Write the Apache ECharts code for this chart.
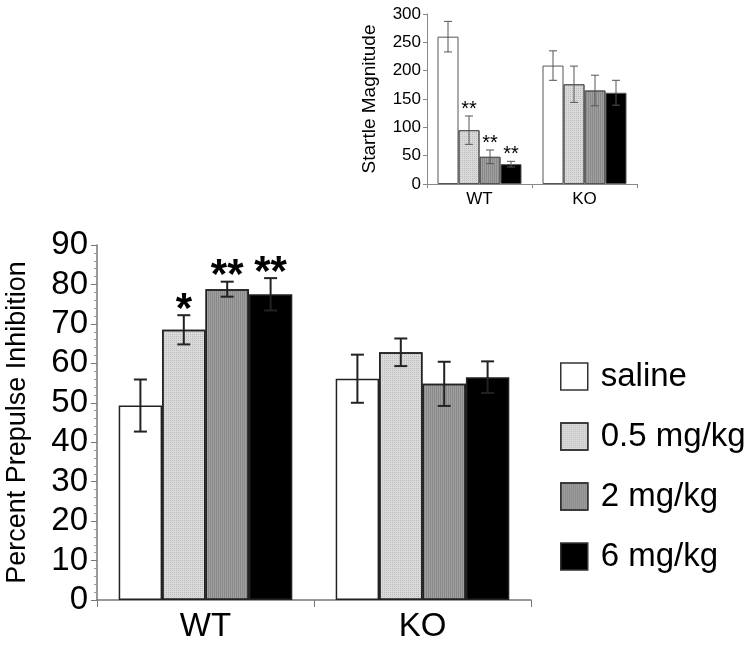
<!DOCTYPE html>
<html>
<head>
<meta charset="utf-8">
<script src="https://cdn.jsdelivr.net/npm/echarts@6/dist/echarts.min.js"></script>
<style>
  html, body { margin: 0; padding: 0; background: #fff; }
  #chart { width: 756px; height: 650px; }
</style>
</head>
<body>
<div id="chart"></div>
<script>
const categories = ["WT", "KO"];
const doses = ["saline", "0.5 mg/kg", "2 mg/kg", "6 mg/kg"];
const fills = ["#ffffff", "#dadada", "#a0a0a0", "#000000"];

// percent prepulse inhibition, [WT, KO] per dose
const ppiSaline = [49.3, 56.1];
const ppiLow = [68.5, 62.8];
const ppiMid = [78.8, 54.8];
const ppiHigh = [77.5, 56.5];
const ppiSalineErr = [6.6, 6.1];
const ppiLowErr = [3.7, 3.5];
const ppiMidErr = [1.9, 5.6];
const ppiHighErr = [4.1, 4.0];
const ppiStars = [["", ""], ["*", ""], ["**", ""], ["**", ""]];
const ppiTicks = [0, 10, 20, 30, 40, 50, 60, 70, 80, 90];

// startle magnitude (inset)
const startleSaline = [260, 209];
const startleLow = [95, 176];
const startleMid = [48, 165];
const startleHigh = [35, 161];
const startleSalineErr = [27, 26];
const startleLowErr = [25, 32];
const startleMidErr = [12, 27];
const startleHighErr = [5, 22];
const startleStars = [["", ""], ["**", ""], ["**", ""], ["**", ""]];
const startleTicks = [0, 50, 100, 150, 200, 250, 300];

const FONT = "'Liberation Sans', Arial, sans-serif";

const ppiMeans = [ppiSaline, ppiLow, ppiMid, ppiHigh];
const ppiErrs = [ppiSalineErr, ppiLowErr, ppiMidErr, ppiHighErr];
const startleMeans = [startleSaline, startleLow, startleMid, startleHigh];
const startleErrs = [startleSalineErr, startleLowErr, startleMidErr, startleHighErr];

// fine print-style textures on the two grey fills
const decals = [
  null,
  { symbol: "rect", symbolSize: 1, color: "rgba(0,0,0,0.13)", dashArrayX: [1, 1], dashArrayY: [1, 1], rotation: 0 },
  { symbol: "rect", symbolSize: 1, color: "rgba(0,0,0,0.14)", dashArrayX: [1, 1], dashArrayY: [4, 0], rotation: 0 },
  null,
];

function buildBars(axisIndex, means, borderWidth, borderColor) {
  return doses.map((name, i) => {
    const itemStyle = { color: fills[i], borderColor, borderWidth };
    if (decals[i]) itemStyle.decal = decals[i];
    return {
      name,
      type: "bar",
      xAxisIndex: axisIndex,
      yAxisIndex: axisIndex,
      data: means[i],
      barGap: "0%",
      barCategoryGap: "20%",
      silent: true,
      itemStyle,
    };
  });
}

function buildErrors(axisIndex, means, errs, stars, opt) {
  return doses.map((name, i) => ({
    type: "custom",
    xAxisIndex: axisIndex,
    yAxisIndex: axisIndex,
    silent: true,
    z: 5,
    data: means[i].map((value, c) => [c, value, errs[i][c]]),
    renderItem: (params, api) => {
      const c = api.value(0);
      const value = api.value(1);
      const err = api.value(2);
      const band = api.size([1, 0])[0];
      const barWidth = (band * 0.8) / doses.length;
      const x = api.coord([c, value])[0] + (i - 1.5) * barWidth;
      const yTop = api.coord([c, value + err])[1];
      const yBot = api.coord([c, value - err])[1];
      const style = { stroke: opt.color, lineWidth: opt.width };
      const children = [
        { type: "line", shape: { x1: x, y1: yTop, x2: x, y2: yBot }, style },
        { type: "line", shape: { x1: x - opt.cap, y1: yTop, x2: x + opt.cap, y2: yTop }, style },
        { type: "line", shape: { x1: x - opt.cap, y1: yBot, x2: x + opt.cap, y2: yBot }, style },
      ];
      const star = stars[i][params.dataIndex];
      if (star) {
        children.push({
          type: "text",
          style: {
            text: star,
            x,
            y: yTop - opt.starGap,
            align: "center",
            verticalAlign: "middle",
            font: opt.starFont,
            fill: "#000",
          },
        });
      }
      return { type: "group", children };
    },
  }));
}

const chart = echarts.init(document.getElementById("chart"), null, { renderer: "canvas" });

chart.setOption({
  animation: false,
  backgroundColor: "#fff",
  textStyle: { fontFamily: FONT },
  legend: {
    data: doses,
    orient: "vertical",
    left: 560,
    top: 360,
    padding: 0,
    itemWidth: 27,
    itemHeight: 27,
    itemGap: 27,
    icon: "rect",
    selectedMode: false,
    itemStyle: { borderColor: "#333", borderWidth: 1.5 },
    textStyle: { fontSize: 33, color: "#000", fontFamily: FONT, padding: [0, 0, 0, 8] },
  },
  grid: [
    { left: 97, top: 245, width: 434, height: 355, containLabel: false, outerBoundsMode: "none" },
    { left: 427, top: 14, width: 210, height: 170, containLabel: false, outerBoundsMode: "none" },
  ],
  xAxis: [
    {
      type: "category",
      gridIndex: 0,
      data: categories,
      axisLine: { lineStyle: { color: "#777", width: 1.5 } },
      axisTick: { show: true, length: 7, lineStyle: { color: "#777" } },
      axisLabel: { fontSize: 33, color: "#000", margin: 10, fontFamily: FONT },
    },
    {
      type: "category",
      gridIndex: 1,
      data: categories,
      axisLine: { lineStyle: { color: "#888", width: 1 } },
      axisTick: { show: true, length: 4, lineStyle: { color: "#888" } },
      axisLabel: { fontSize: 17, color: "#000", margin: 7, fontFamily: FONT },
    },
  ],
  yAxis: [
    {
      type: "value",
      gridIndex: 0,
      min: ppiTicks[0],
      max: ppiTicks[ppiTicks.length - 1],
      interval: 10,
      name: "Percent Prepulse Inhibition",
      nameLocation: "middle",
      nameGap: 66,
      nameTextStyle: { fontSize: 27, color: "#000", fontFamily: FONT },
      axisLine: { show: true, lineStyle: { color: "#777", width: 1.5 } },
      axisTick: { show: true, length: 6, lineStyle: { color: "#777" } },
      minorTick: { show: true, splitNumber: 5, length: 3, lineStyle: { color: "#999" } },
      splitLine: { show: false },
      axisLabel: { fontSize: 33, color: "#000", margin: 9, fontFamily: FONT },
    },
    {
      type: "value",
      gridIndex: 1,
      min: startleTicks[0],
      max: startleTicks[startleTicks.length - 1],
      interval: 50,
      name: "Startle Magnitude",
      nameLocation: "middle",
      nameGap: 48,
      nameTextStyle: { fontSize: 19, color: "#000", fontFamily: FONT },
      axisLine: { show: true, lineStyle: { color: "#888", width: 1 } },
      axisTick: { show: true, length: 4, lineStyle: { color: "#888" } },
      splitLine: { show: false },
      axisLabel: { fontSize: 17, color: "#000", margin: 6, fontFamily: FONT },
    },
  ],
  series: [
    ...buildBars(0, ppiMeans, 1.5, "#222"),
    ...buildErrors(0, ppiMeans, ppiErrs, ppiStars, {
      color: "#222",
      width: 2,
      cap: 6.5,
      starGap: 5,
      starFont: "bold 42px " + FONT,
    }),
    ...buildBars(1, startleMeans, 1, "#555"),
    ...buildErrors(1, startleMeans, startleErrs, startleStars, {
      color: "#555",
      width: 1,
      cap: 4,
      starGap: 7,
      starFont: "20px " + FONT,
    }),
  ],
});
</script>
</body>
</html>
